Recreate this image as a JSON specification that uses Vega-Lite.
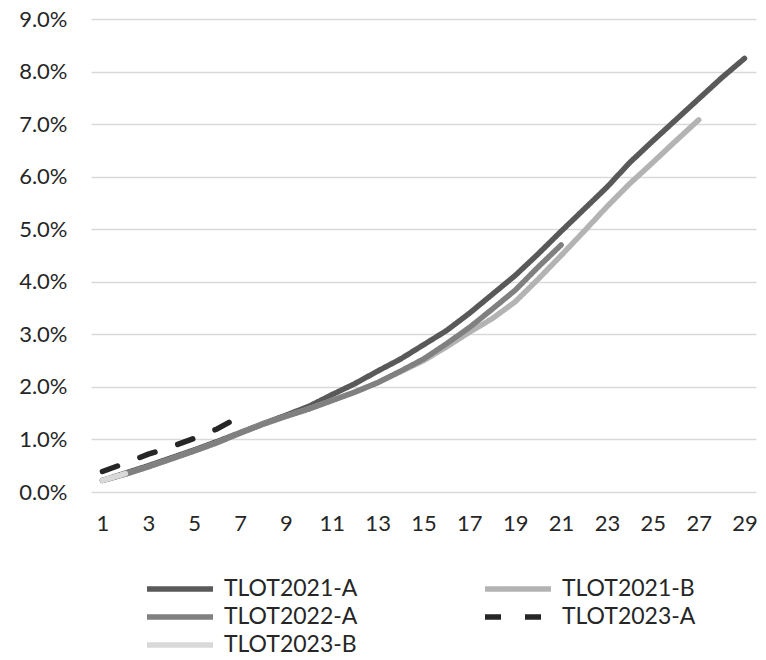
{
  "$schema": "https://vega.github.io/schema/vega-lite/v6.json",
  "autosize": "none",
  "width": 665,
  "height": 473,
  "padding": {"left": 91, "top": 19, "right": 10, "bottom": 168},
  "background": "white",
  "config": {
    "font": "Lato",
    "view": {"stroke": null},
    "axis": {"labelFont": "Lato", "labelFontSize": 22, "labelColor": "#262626", "title": null}
  },
  "data": {
    "values": [
      {"x": 1, "TLOT2021-A": 0.0022, "TLOT2021-B": 0.0022, "TLOT2022-A": 0.0022, "TLOT2023-A": 0.0039, "TLOT2023-B": 0.0022},
      {"x": 2, "TLOT2021-A": 0.0036, "TLOT2021-B": 0.0034, "TLOT2022-A": 0.0034, "TLOT2023-A": 0.0055, "TLOT2023-B": 0.0035},
      {"x": 3, "TLOT2021-A": 0.0050, "TLOT2021-B": 0.0048, "TLOT2022-A": 0.0048, "TLOT2023-A": 0.0072},
      {"x": 4, "TLOT2021-A": 0.0065, "TLOT2021-B": 0.0063, "TLOT2022-A": 0.0063, "TLOT2023-A": 0.0086},
      {"x": 5, "TLOT2021-A": 0.0080, "TLOT2021-B": 0.0078, "TLOT2022-A": 0.0078, "TLOT2023-A": 0.0102},
      {"x": 6, "TLOT2021-A": 0.0096, "TLOT2021-B": 0.0094, "TLOT2022-A": 0.0094, "TLOT2023-A": 0.0120},
      {"x": 7, "TLOT2021-A": 0.0113, "TLOT2021-B": 0.0112, "TLOT2022-A": 0.0112, "TLOT2023-A": 0.0144},
      {"x": 8, "TLOT2021-A": 0.0130, "TLOT2021-B": 0.0129, "TLOT2022-A": 0.0129},
      {"x": 9, "TLOT2021-A": 0.0146, "TLOT2021-B": 0.0144, "TLOT2022-A": 0.0144},
      {"x": 10, "TLOT2021-A": 0.0163, "TLOT2021-B": 0.0158, "TLOT2022-A": 0.0158},
      {"x": 11, "TLOT2021-A": 0.0185, "TLOT2021-B": 0.0174, "TLOT2022-A": 0.0174},
      {"x": 12, "TLOT2021-A": 0.0206, "TLOT2021-B": 0.0190, "TLOT2022-A": 0.0190},
      {"x": 13, "TLOT2021-A": 0.0230, "TLOT2021-B": 0.0208, "TLOT2022-A": 0.0208},
      {"x": 14, "TLOT2021-A": 0.0253, "TLOT2021-B": 0.0229, "TLOT2022-A": 0.0230},
      {"x": 15, "TLOT2021-A": 0.0280, "TLOT2021-B": 0.0250, "TLOT2022-A": 0.0253},
      {"x": 16, "TLOT2021-A": 0.0307, "TLOT2021-B": 0.0276, "TLOT2022-A": 0.0282},
      {"x": 17, "TLOT2021-A": 0.0340, "TLOT2021-B": 0.0304, "TLOT2022-A": 0.0313},
      {"x": 18, "TLOT2021-A": 0.0376, "TLOT2021-B": 0.0330, "TLOT2022-A": 0.0348},
      {"x": 19, "TLOT2021-A": 0.0412, "TLOT2021-B": 0.0362, "TLOT2022-A": 0.0384},
      {"x": 20, "TLOT2021-A": 0.0453, "TLOT2021-B": 0.0405, "TLOT2022-A": 0.0428},
      {"x": 21, "TLOT2021-A": 0.0496, "TLOT2021-B": 0.0450, "TLOT2022-A": 0.0470},
      {"x": 22, "TLOT2021-A": 0.0538, "TLOT2021-B": 0.0496},
      {"x": 23, "TLOT2021-A": 0.0580, "TLOT2021-B": 0.0543},
      {"x": 24, "TLOT2021-A": 0.0627, "TLOT2021-B": 0.0587},
      {"x": 25, "TLOT2021-A": 0.0668, "TLOT2021-B": 0.0627},
      {"x": 26, "TLOT2021-A": 0.0708, "TLOT2021-B": 0.0668},
      {"x": 27, "TLOT2021-A": 0.0748, "TLOT2021-B": 0.0708},
      {"x": 28, "TLOT2021-A": 0.0788},
      {"x": 29, "TLOT2021-A": 0.0825}
    ]
  },
  "transform": [
    {"fold": ["TLOT2021-A", "TLOT2021-B", "TLOT2022-A", "TLOT2023-A", "TLOT2023-B"], "as": ["series", "v"]},
    {"filter": "isValid(datum.v)"}
  ],
  "mark": {"type": "line", "strokeWidth": 5.5, "strokeCap": "round", "strokeJoin": "round"},
  "encoding": {
    "x": {
      "field": "x", "type": "quantitative",
      "scale": {"domain": [0.5, 29.5], "nice": false, "zero": false},
      "axis": {"values": [1,3,5,7,9,11,13,15,17,19,21,23,25,27,29], "grid": false, "domain": false, "ticks": false, "labelPadding": 21, "labelFlush": false}
    },
    "y": {
      "field": "v", "type": "quantitative",
      "scale": {"domain": [0, 0.09], "nice": false},
      "axis": {"values": [0,0.01,0.02,0.03,0.04,0.05,0.06,0.07,0.08,0.09], "format": ".1%", "grid": true, "gridColor": "#d9d9d9", "gridWidth": 1.5, "domain": false, "ticks": false, "labelPadding": 24}
    },
    "color": {
      "field": "series", "type": "nominal",
      "scale": {"domain": ["TLOT2021-A", "TLOT2022-A", "TLOT2023-B", "TLOT2021-B", "TLOT2023-A"], "range": ["#595959", "#808080", "#d9d9d9", "#b3b3b3", "#262626"]},
      "legend": {"orient": "none", "legendX": 75, "legendY": 556, "columns": 2, "title": null, "symbolType": "M-3,0H3", "symbolSize": 484, "symbolStrokeWidth": 5.5, "labelFontSize": 23, "labelFont": "Lato", "labelColor": "#262626", "labelOffset": 30, "columnPadding": 116, "rowPadding": 2}
    },
    "strokeDash": {
      "field": "series", "type": "nominal",
      "scale": {"domain": ["TLOT2021-A", "TLOT2022-A", "TLOT2023-B", "TLOT2021-B", "TLOT2023-A"], "range": [[1, 0], [1, 0], [1, 0], [1, 0], [16, 24]]},
      "legend": {"orient": "none", "legendX": 75, "legendY": 556, "columns": 2, "title": null, "symbolType": "M-3,0H3", "symbolSize": 484, "symbolStrokeWidth": 5.5, "labelFontSize": 23, "labelFont": "Lato", "labelColor": "#262626", "labelOffset": 30, "columnPadding": 116, "rowPadding": 2}
    },
    "order": {"field": "x", "type": "quantitative"}
  }
}
